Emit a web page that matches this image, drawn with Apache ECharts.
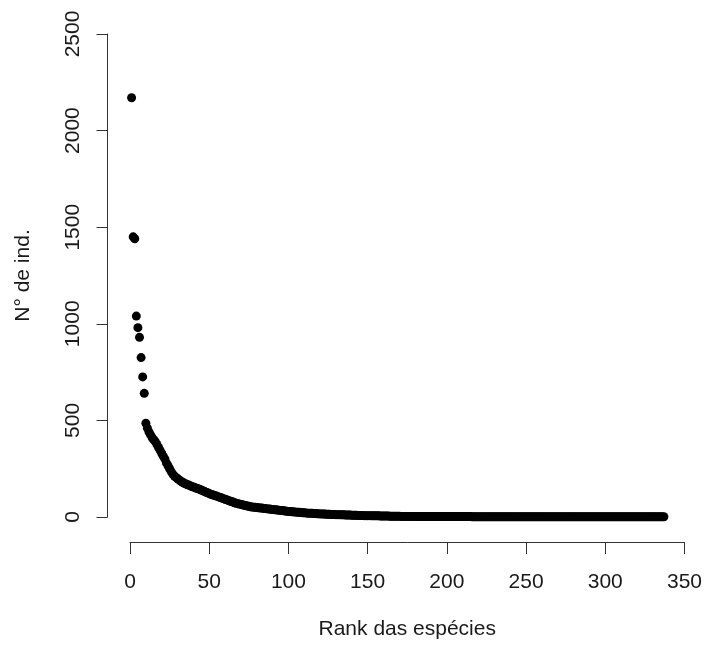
<!DOCTYPE html>
<html>
<head>
<meta charset="utf-8">
<script src="https://cdn.jsdelivr.net/npm/echarts@6/dist/echarts.min.js"></script>
<style>html,body{margin:0;padding:0;background:#fff}#c{width:705px;height:645px}</style>
</head>
<body>
<div id="c"></div>
<script>
// Abundance (N° de ind.) by species rank, ranks 1..N in order
const abundanceTop = [2170, 1450, 1440, 1040, 980, 930, 825, 725, 640, 485];
const abundance11to50 = [460, 440, 425, 410, 400, 390, 375, 360, 345, 330,
  315, 300, 280, 265, 250, 235, 222, 212, 205, 198,
  192, 186, 181, 176, 172, 168, 165, 162, 158, 155,
  152, 149, 146, 143, 140, 136, 132, 128, 125, 121];
const abundance51to100 = [118, 115, 112, 110, 107, 104, 101, 98, 95, 92,
  89, 86, 83, 80, 77, 74, 71, 69, 67, 65,
  63, 61, 59, 57, 55, 53, 52, 51, 50, 49,
  48, 47, 46, 45, 44, 43, 42, 41, 40, 39,
  38, 37, 36, 35, 34, 33, 32, 31, 30, 29];
const abundance101to180 = [28, 27, 27, 26, 25, 24, 24, 23, 22, 22,
  21, 20, 20, 19, 19, 18, 18, 17, 17, 16,
  16, 15, 15, 14, 14, 14, 13, 13, 13, 12,
  12, 12, 11, 11, 11, 10, 10, 10, 10, 9,
  9, 9, 9, 8, 8, 8, 8, 7, 7, 7,
  7, 7, 6, 6, 6, 6, 6, 5, 5, 5,
  5, 5, 5, 4, 4, 4, 4, 4, 4, 4,
  3, 3, 3, 3, 3, 3, 3, 3, 3, 3];
const abundance181to337 = [2, 2, 2, 2, 2, 2, 2, 2, 2, 2,
  2, 2, 2, 2, 2, 2, 2, 2, 2, 2,
  2, 2, 2, 2, 2, 2, 2, 2, 2, 2,
  2, 2, 2, 2, 2, 1, 1, 1, 1, 1,
  1, 1, 1, 1, 1, 1, 1, 1, 1, 1,
  1, 1, 1, 1, 1, 1, 1, 1, 1, 1,
  1, 1, 1, 1, 1, 1, 1, 1, 1, 1,
  1, 1, 1, 1, 1, 1, 1, 1, 1, 1,
  1, 1, 1, 1, 1, 1, 1, 1, 1, 1,
  1, 1, 1, 1, 1, 1, 1, 1, 1, 1,
  1, 1, 1, 1, 1, 1, 1, 1, 1, 1,
  1, 1, 1, 1, 1, 1, 1, 1, 1, 1,
  1, 1, 1, 1, 1, 1, 1, 1, 1, 1,
  1, 1, 1, 1, 1, 1, 1, 1, 1, 1,
  1, 1, 1, 1, 1, 1, 1, 1, 1, 1,
  1, 1, 1, 1, 1, 1, 1];
const xTicks = [0, 50, 100, 150, 200, 250, 300, 350];
const yTicks = [0, 500, 1000, 1500, 2000, 2500];
const xTitle = 'Rank das espécies';
const yTitle = 'N° de ind.';

const abundance = [].concat(abundanceTop, abundance11to50, abundance51to100, abundance101to180, abundance181to337);
const points = abundance.map((v, i) => [i + 1, v]);

const FONT = "'Liberation Sans', Arial, sans-serif";
const TXT = '#1a1a1a';
const LINE = '#333';
const FS = 21;

const chart = echarts.init(document.getElementById('c'), null, {renderer: 'canvas'});
chart.setOption({
  animation: false,
  backgroundColor: '#fff',
  grid: {left: 130, right: 16, top: 34, bottom: 123, containLabel: false},
  xAxis: {
    type: 'value', min: xTicks[0], max: xTicks[xTicks.length - 1], interval: 50,
    offset: 25,
    axisLine: {show: true, onZero: false, lineStyle: {color: LINE, width: 1}},
    axisTick: {show: true, length: 12, lineStyle: {color: LINE, width: 1}},
    splitLine: {show: false},
    axisLabel: {color: TXT, fontFamily: FONT, fontSize: FS, margin: 30, showMinLabel: true, showMaxLabel: true,
      formatter: v => String(v)},
    name: xTitle, nameLocation: 'middle', nameGap: 77,
    nameTextStyle: {color: TXT, fontFamily: FONT, fontSize: FS}
  },
  yAxis: {
    type: 'value', min: yTicks[0], max: yTicks[yTicks.length - 1], interval: 500,
    offset: 22.5,
    axisLine: {show: true, onZero: false, lineStyle: {color: LINE, width: 1}},
    axisTick: {show: true, length: 11, lineStyle: {color: LINE, width: 1}},
    splitLine: {show: false},
    axisLabel: {color: TXT, fontFamily: FONT, fontSize: FS, margin: 24, rotate: 90, showMinLabel: true, showMaxLabel: true,
      formatter: v => String(v)},
    name: yTitle, nameLocation: 'middle', nameGap: 74,
    nameTextStyle: {color: TXT, fontFamily: FONT, fontSize: FS}
  },
  series: [{
    type: 'scatter',
    data: points,
    symbol: 'circle',
    symbolSize: 9,
    clip: false,
    itemStyle: {color: '#000', opacity: 1}
  }]
});
</script>
</body>
</html>
